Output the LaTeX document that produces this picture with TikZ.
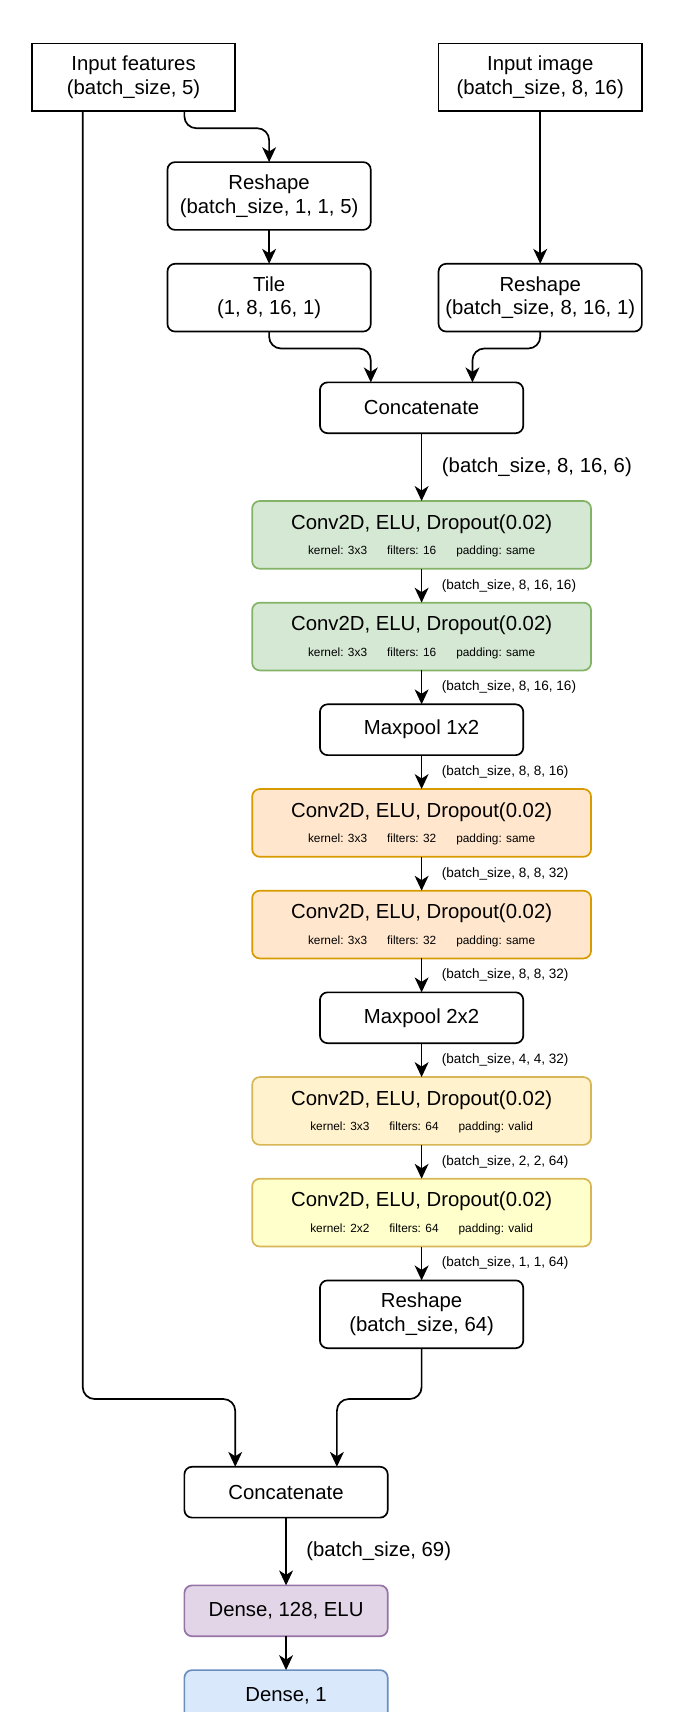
\documentclass[tikz,border=0pt]{standalone}
\usepackage{fontspec}
\setmainfont{Liberation Sans}
\usetikzlibrary{arrows.meta,positioning,calc}
\definecolor{gfill}{HTML}{D5E8D4}\definecolor{gdraw}{HTML}{82B366}
\definecolor{ofill}{HTML}{FFE6CC}\definecolor{odraw}{HTML}{D79B00}
\definecolor{yfill}{HTML}{FFF2CC}\definecolor{ydraw}{HTML}{D6B656}
\definecolor{lyfill}{HTML}{FFFFCC}
\definecolor{pfill}{HTML}{E1D5E7}\definecolor{pdraw}{HTML}{9673A6}
\definecolor{bfill}{HTML}{DAE8FC}\definecolor{bdraw}{HTML}{6C8EBF}
\tikzset{
  box/.style={draw=black, line width=1pt, anchor=north west, minimum width=120pt, minimum height=40pt, inner sep=0pt, outer sep=0pt, align=center, font=\fontsize{12}{14}\selectfont},
  rbox/.style={box, rounded corners=4.5pt},
  sbox/.style={rbox, minimum height=30pt},
  convbox/.style={rbox, minimum width=200pt},
  maintxt/.style={inner sep=0pt, font=\fontsize{12}{14}\selectfont},
  subtxt/.style={inner sep=0pt, font=\fontsize{7}{8}\selectfont},
  conn/.style={line width=1pt, rounded corners=7pt, -{Stealth[length=8.8pt,width=8.2pt,inset=2.6pt]}},
  biglab/.style={anchor=west, inner sep=0pt, font=\fontsize{12}{14}\selectfont},
  smalllab/.style={anchor=west, inner sep=0pt, font=\fontsize{8}{9}\selectfont},
}
\newcommand{\convdetail}[3]{kernel: #1\hspace{11.8pt}filters: #2\hspace{11.8pt}padding: #3}
\begin{document}
\begin{tikzpicture}[x=1pt,y=-1pt]
\useasboundingbox (0,0) rectangle (404.9,1010.4);
\clip (0,0) rectangle (404.9,1010.4);
\begin{scope}[shift={(18.83,25.67)}]
% top row
\node[box] (inf) at (0,0) {Input features\\(batch\_size, 5)};
\node[box] (inimg) at (240,0) {Input image\\(batch\_size, 8, 16)};
\node[rbox] (rs1) at (80,70) {Reshape\\(batch\_size, 1, 1, 5)};
\node[rbox] (tile) at (80,130) {Tile\\(1, 8, 16, 1)};
\node[rbox] (rs2) at (240,130) {Reshape\\(batch\_size, 8, 16, 1)};
\node[sbox] (cat1) at (170,200) {Concatenate};
% conv blocks
\node[convbox, fill=gfill, draw=gdraw] (g1) at (130,270) {};
\node[convbox, fill=gfill, draw=gdraw] (g2) at (130,330) {};
\node[sbox] (mp1) at (170,390) {Maxpool 1x2};
\node[convbox, fill=ofill, draw=odraw] (o1) at (130,440) {};
\node[convbox, fill=ofill, draw=odraw] (o2) at (130,500) {};
\node[sbox] (mp2) at (170,560) {Maxpool 2x2};
\node[convbox, fill=yfill, draw=ydraw] (y1) at (130,610) {};
\node[convbox, fill=lyfill, draw=ydraw] (y2) at (130,670) {};
\node[rbox] (rs3) at (170,730) {Reshape\\(batch\_size, 64)};
\node[sbox] (cat2) at (90,840) {Concatenate};
\node[sbox, fill=pfill, draw=pdraw] (d128) at (90,910) {Dense, 128, ELU};
\node[sbox, fill=bfill, draw=bdraw] (d1) at (90,960) {Dense, 1};
% conv texts
\node[maintxt] (g1m) at ([yshift=6.5pt]g1.center) {Conv2D, ELU, Dropout(0.02)};
\node[subtxt] (g1s) at ([yshift=-10pt]g1.center) {\convdetail{3x3}{16}{same}};
\node[maintxt] (g2m) at ([yshift=6.5pt]g2.center) {Conv2D, ELU, Dropout(0.02)};
\node[subtxt] (g2s) at ([yshift=-10pt]g2.center) {\convdetail{3x3}{16}{same}};
\node[maintxt] (o1m) at ([yshift=6.5pt]o1.center) {Conv2D, ELU, Dropout(0.02)};
\node[subtxt] (o1s) at ([yshift=-10pt]o1.center) {\convdetail{3x3}{32}{same}};
\node[maintxt] (o2m) at ([yshift=6.5pt]o2.center) {Conv2D, ELU, Dropout(0.02)};
\node[subtxt] (o2s) at ([yshift=-10pt]o2.center) {\convdetail{3x3}{32}{same}};
\node[maintxt] (y1m) at ([yshift=6.5pt]y1.center) {Conv2D, ELU, Dropout(0.02)};
\node[subtxt] (y1s) at ([yshift=-10pt]y1.center) {\convdetail{3x3}{64}{valid}};
\node[maintxt] (y2m) at ([yshift=6.5pt]y2.center) {Conv2D, ELU, Dropout(0.02)};
\node[subtxt] (y2s) at ([yshift=-10pt]y2.center) {\convdetail{2x2}{64}{valid}};
% connectors
\coordinate (infA) at ($(inf.south west)!0.75!(inf.south east)$);
\coordinate (infB) at ($(inf.south west)!0.25!(inf.south east)$);
\coordinate (cat1L) at ($(cat1.north west)!0.25!(cat1.north east)$);
\coordinate (cat1R) at ($(cat1.north west)!0.75!(cat1.north east)$);
\coordinate (cat2L) at ($(cat2.north west)!0.25!(cat2.north east)$);
\coordinate (cat2R) at ($(cat2.north west)!0.75!(cat2.north east)$);
\draw[conn] (infA) -- (infA |- 0,50) -- (rs1.north |- 0,50) -- (rs1.north);
\draw[conn] (rs1.south) -- (tile.north);
\draw[conn] (inimg.south) -- (rs2.north);
\draw[conn] (tile.south) -- (tile.south |- 0,180) -- (cat1L |- 0,180) -- (cat1L);
\draw[conn] (rs2.south) -- (rs2.south |- 0,180) -- (cat1R |- 0,180) -- (cat1R);
\draw[conn] (cat1.south) -- node[biglab, xshift=11.5pt] (l0) {(batch\_size, 8, 16, 6)} (g1.north);
\draw[conn] (g1.south) -- node[smalllab, xshift=11.5pt] (l1) {(batch\_size, 8, 16, 16)} (g2.north);
\draw[conn] (g2.south) -- node[smalllab, xshift=11.5pt] (l2) {(batch\_size, 8, 16, 16)} (mp1.north);
\draw[conn] (mp1.south) -- node[smalllab, xshift=11.5pt] (l3) {(batch\_size, 8, 8, 16)} (o1.north);
\draw[conn] (o1.south) -- node[smalllab, xshift=11.5pt] (l4) {(batch\_size, 8, 8, 32)} (o2.north);
\draw[conn] (o2.south) -- node[smalllab, xshift=11.5pt] (l5) {(batch\_size, 8, 8, 32)} (mp2.north);
\draw[conn] (mp2.south) -- node[smalllab, xshift=11.5pt] (l6) {(batch\_size, 4, 4, 32)} (y1.north);
\draw[conn] (y1.south) -- node[smalllab, xshift=11.5pt] (l7) {(batch\_size, 2, 2, 64)} (y2.north);
\draw[conn] (y2.south) -- node[smalllab, xshift=11.5pt] (l8) {(batch\_size, 1, 1, 64)} (rs3.north);
\draw[conn] (infB) -- (infB |- 0,800) -- (cat2L |- 0,800) -- (cat2L);
\draw[conn] (rs3.south) -- (rs3.south |- 0,800) -- (cat2R |- 0,800) -- (cat2R);
\draw[conn] (cat2.south) -- node[biglab, xshift=11.5pt] (l9) {(batch\_size, 69)} (d128.north);
\draw[conn] (d128.south) -- (d1.north);
\end{scope}
\end{tikzpicture}
\end{document}
